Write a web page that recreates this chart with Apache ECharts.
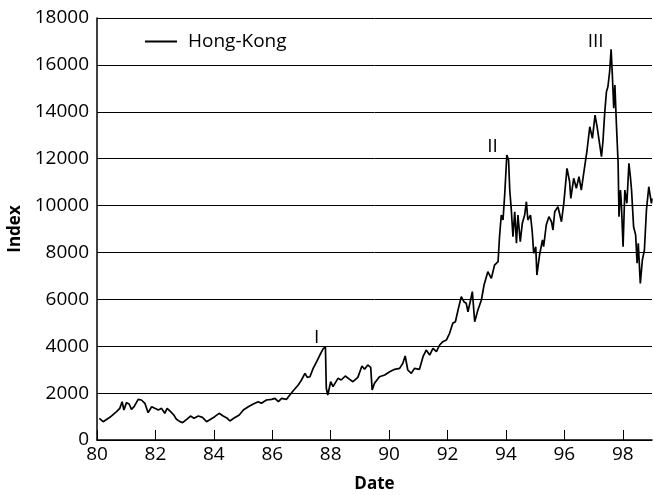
<!DOCTYPE html>
<html>
<head>
<meta charset="utf-8">
<script src="https://cdn.jsdelivr.net/npm/echarts@6/dist/echarts.min.js"></script>
<style>
  html, body { margin: 0; padding: 0; background: #fff; }
  #chart { width: 654px; height: 495px; }
</style>
</head>
<body>
<div id="chart"></div>
<script>
// Hang Seng index (year 80 = 1980)
var years = [
  80.08, 80.21, 80.44, 80.67, 80.78, 80.86, 80.92, 81.01, 81.10, 81.18,
  81.27, 81.41, 81.52, 81.64, 81.75, 81.87, 81.98, 82.10, 82.21, 82.32,
  82.40, 82.52, 82.63, 82.72, 82.84, 82.93, 83.07, 83.20, 83.32, 83.47,
  83.61, 83.75, 83.89, 84.03, 84.18, 84.32, 84.46, 84.55, 84.68, 84.87,
  85.01, 85.18, 85.35, 85.52, 85.63, 85.80, 85.98, 86.09, 86.21, 86.32,
  86.49, 86.60, 86.74, 86.89, 87.00, 87.12, 87.20, 87.29, 87.40, 87.52,
  87.63, 87.75, 87.82, 87.85, 87.90, 88.00, 88.08, 88.25, 88.36, 88.50,
  88.65, 88.76, 88.93, 89.07, 89.16, 89.27, 89.37, 89.42, 89.50, 89.67,
  89.85, 90.02, 90.19, 90.36, 90.47, 90.55, 90.64, 90.76, 90.87, 91.04,
  91.16, 91.27, 91.39, 91.50, 91.62, 91.73, 91.84, 91.96, 92.07, 92.18,
  92.27, 92.36, 92.47, 92.56, 92.64, 92.70, 92.79, 92.85, 92.93, 93.04,
  93.16, 93.25, 93.38, 93.50, 93.61, 93.73, 93.78, 93.84, 93.90, 93.96,
  94.03, 94.09, 94.13, 94.18, 94.24, 94.30, 94.36, 94.41, 94.49, 94.56,
  94.64, 94.70, 94.75, 94.84, 94.90, 94.95, 95.02, 95.06, 95.15, 95.25,
  95.29, 95.38, 95.47, 95.56, 95.61, 95.67, 95.78, 95.90, 95.98, 96.09,
  96.18, 96.22, 96.32, 96.41, 96.50, 96.58, 96.67, 96.77, 96.87, 96.96,
  97.05, 97.12, 97.18, 97.27, 97.32, 97.38, 97.44, 97.49, 97.55, 97.60,
  97.64, 97.69, 97.73, 97.78, 97.84, 97.87, 97.92, 97.95, 98.01, 98.07,
  98.14, 98.21, 98.26, 98.30, 98.37, 98.44, 98.49, 98.53, 98.60, 98.67,
  98.74, 98.81, 98.89, 98.98, 99.00
];
var hongKong = [
  925, 782, 967, 1207, 1350, 1635, 1280, 1593, 1535, 1308,
  1420, 1735, 1706, 1565, 1165, 1420, 1350, 1280, 1350, 1138,
  1350, 1207, 1066, 882, 782, 740, 882, 1023, 925, 1023,
  967, 782, 882, 995, 1138, 1023, 925, 810, 925, 1066,
  1280, 1420, 1535, 1635, 1565, 1706, 1735, 1777, 1635, 1777,
  1735, 1919, 2133, 2346, 2559, 2845, 2672, 2700, 3055, 3340,
  3625, 3910, 3970, 2205, 1919, 2487, 2275, 2630, 2559, 2730,
  2588, 2487, 2672, 3156, 3014, 3199, 3100, 2133, 2418, 2700,
  2772, 2913, 3014, 3055, 3271, 3583, 2986, 2845, 3055, 3014,
  3553, 3838, 3625, 3910, 3767, 4052, 4193, 4265, 4550, 4977,
  5046, 5545, 6113, 5898, 5830, 5472, 5971, 6326, 5046, 5545,
  5971, 6611, 7178, 6896, 7464, 7605, 8671, 9596, 9383, 10522,
  12155, 11942, 10663, 9881, 8671, 9737, 8389, 9596, 8458, 9242,
  9596, 10164, 9383, 9596, 8884, 7962, 8244, 7037, 7890, 8530,
  8244, 9170, 9524, 9310, 8957, 9737, 9950, 9310, 10095, 11588,
  11017, 10308, 11161, 10735, 11230, 10663, 11443, 12296, 13362, 12867,
  13861, 13362, 13435, 12083, 12723, 13934, 14855, 15068, 15708, 16663,
  15640, 14147, 15141, 13507, 11801, 9524, 10663, 10095, 8244, 10663,
  10095, 11801, 11230, 10663, 9097, 8743, 7536, 8389, 6682, 7677,
  8103, 9810, 10803, 10095, 10300
];
// peak markers
var peakNames = ['I', 'II', 'III'];
var peakYears = [87.52, 93.54, 97.07];
var peakValues = [4350, 12530, 17000];

var FONT = '"Open Sans", "Noto Sans", sans-serif';

var seriesData = years.map(function (y, i) { return [y, hongKong[i]]; });
var peaks = peakNames.map(function (n, i) {
  return { name: n, coord: [peakYears[i], peakValues[i]] };
});

var chart = echarts.init(document.getElementById('chart'), null, { renderer: 'canvas' });
var option = {
  backgroundColor: '#fff',
  animation: false,
  grid: { left: 97, right: 2, top: 18, bottom: 55, outerBoundsMode: 'none' },
  legend: {
    left: 145,
    top: 32,
    padding: 0,
    icon: 'rect',
    itemWidth: 32,
    itemHeight: 2,
    textStyle: { fontFamily: FONT, fontSize: 19, color: '#000', padding: [0, 0, 0, 6] },
    data: ['Hong-Kong']
  },
  xAxis: {
    type: 'value',
    min: 80,
    max: 99,
    interval: 2,
    name: 'Date',
    nameLocation: 'middle',
    nameGap: 36,
    nameTextStyle: { fontFamily: FONT, fontSize: 17, fontWeight: 'bold', color: '#000' },
    axisLine: { lineStyle: { color: '#000', width: 1.5 } },
    axisTick: { inside: true, length: 10, lineStyle: { color: '#000', width: 1 } },
    axisLabel: {
      fontFamily: FONT, fontSize: 19, color: '#000', margin: 5, showMaxLabel: false,
      formatter: function (v) { return v % 2 === 0 ? String(v) : ''; }
    },
    splitLine: { show: false }
  },
  yAxis: {
    type: 'value',
    min: 0,
    max: 18000,
    interval: 2000,
    name: 'Index',
    nameLocation: 'middle',
    nameGap: 72,
    nameTextStyle: { fontFamily: FONT, fontSize: 17, fontWeight: 'bold', color: '#000' },
    axisLine: { show: true, lineStyle: { color: '#000', width: 1.5 } },
    axisTick: { show: false },
    axisLabel: {
      fontFamily: FONT, fontSize: 19, color: '#000', margin: 8,
      formatter: function (v) { return String(v); }
    },
    splitLine: { show: true, lineStyle: { color: '#000', width: 1 } }
  },
  series: [{
    name: 'Hong-Kong',
    type: 'line',
    data: seriesData,
    showSymbol: false,
    symbol: 'none',
    lineStyle: { color: '#000', width: 1.7 },
    itemStyle: { color: '#000' },
    markPoint: {
      symbol: 'circle',
      symbolSize: 0,
      label: {
        show: true,
        position: 'inside',
        formatter: '{b}',
        fontFamily: FONT,
        fontSize: 19,
        color: '#000'
      },
      data: peaks
    }
  }]
};
chart.setOption(option);
</script>
</body>
</html>
